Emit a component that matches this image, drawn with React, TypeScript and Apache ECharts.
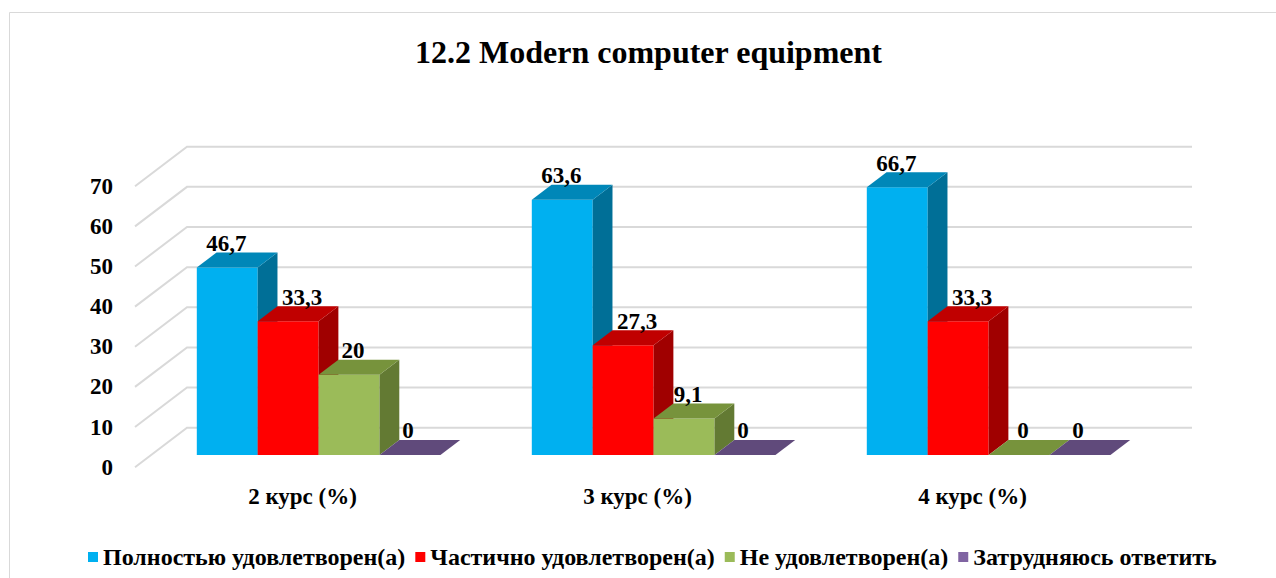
import React, { useEffect, useRef } from "react";
import * as echarts from "echarts";

// ---- data ----
const categories = ["2 курс (%)", "3 курс (%)", "4 курс (%)"];
const seriesNames = [
  "Полностью удовлетворен(а)",
  "Частично удовлетворен(а)",
  "Не удовлетворен(а)",
  "Затрудняюсь ответить",
];
const fullySatisfied = [46.7, 63.6, 66.7];
const partiallySatisfied = [33.3, 27.3, 33.3];
const notSatisfied = [20, 9.1, 0];
const hardToSay = [0, 0, 0];
const yTicks = [0, 10, 20, 30, 40, 50, 60, 70];
const titleText = "12.2 Modern computer equipment";

// ---- style ----
const FONT = "Liberation Serif";
const frontColors = ["#00B0F0", "#FF0000", "#9BBB59", "#8064A2"];
const topColors = ["#0087B8", "#C00000", "#77933C", "#604A7B"];
const sideColors = ["#006F97", "#A00000", "#637A33", "#4F3D66"];
const labelDx = [-1, 14, 4, -2];
const DX = 52; // full wall depth, x
const DY = -39.5; // full wall depth, y
const D0 = 0.31; // bar front depth fraction
const D1 = 0.69; // bar back depth fraction

const fmt = (v: number) => String(v).replace(".", ",");

export default function App() {
  const ref = useRef<HTMLDivElement>(null);
  useEffect(() => {
    if (!ref.current) return;
    const chart = echarts.init(ref.current, undefined, { renderer: "svg" });
    const allValues = [fullySatisfied, partiallySatisfied, notSatisfied, hardToSay];

    const barSeries = allValues.map((vals, s) => ({
      type: "custom",
      name: seriesNames[s],
      itemStyle: { color: frontColors[s] },
      data: vals.map((v, j) => [j, v]),
      encode: { x: 0, y: 1 },
      z: 3,
      renderItem: (params: any, api: any) => {
        const j = api.value(0);
        const v = api.value(1);
        const catW = api.size([1, 0])[0];
        const bw = catW / 5.5;
        const p0 = api.coord([j, 0]);
        const p1 = api.coord([j, v]);
        const catLeft = p0[0] - catW / 2;
        const fx = catLeft + 0.75 * bw + s * bw + DX * D0;
        const fyB = p0[1] + DY * D0;
        const fyT = p1[1] + DY * D0;
        const bdx = DX * (D1 - D0);
        const bdy = DY * (D1 - D0);
        const children: any[] = [];
        if (v > 0) {
          children.push({
            type: "polygon",
            shape: { points: [[fx, fyT], [fx + bw, fyT], [fx + bw, fyB], [fx, fyB]] },
            style: { fill: frontColors[s] },
          });
          children.push({
            type: "polygon",
            shape: {
              points: [[fx + bw, fyT], [fx + bw + bdx, fyT + bdy], [fx + bw + bdx, fyB + bdy], [fx + bw, fyB]],
            },
            style: { fill: sideColors[s] },
          });
        }
        children.push({
          type: "polygon",
          shape: {
            points: [[fx, fyT], [fx + bw, fyT], [fx + bw + bdx, fyT + bdy], [fx + bdx, fyT + bdy]],
          },
          style: { fill: topColors[s] },
        });
        children.push({
          type: "text",
          x: fx + bw / 2 + labelDx[s],
          y: fyT + bdy - 9,
          style: {
            text: fmt(v),
            fill: "#000",
            fontFamily: FONT,
            fontWeight: "bold",
            fontSize: 23,
            align: "center",
            verticalAlign: "middle",
          },
          z2: 10,
        });
        return { type: "group", children };
      },
    }));

    const wallSeries = {
      type: "custom",
      name: "walls",
      silent: true,
      z: 1,
      data: yTicks.map((t) => [0, t]),
      encode: { x: 0, y: 1 },
      renderItem: (params: any, api: any) => {
        const cs = params.coordSys;
        const y = api.coord([0, api.value(1)])[1];
        const x0 = cs.x;
        const x1 = cs.x + cs.width;
        return {
          type: "polyline",
          shape: { points: [[x0, y], [x0 + DX, y + DY], [x1 + DX, y + DY]] },
          style: { stroke: "#D9D9D9", lineWidth: 2, fill: "none" },
        };
      },
    };

    chart.setOption({
      animation: false,
      backgroundColor: "#fff",
      graphic: [
        {
          type: "rect",
          shape: { x: 9.5, y: 12.5, width: 1400, height: 700 },
          style: { fill: "none", stroke: "#D9D9D9", lineWidth: 1 },
          silent: true,
          z: -10,
        },
        {
          type: "text",
          x: 648.5,
          y: 52,
          style: {
            text: titleText,
            fontFamily: FONT,
            fontWeight: "bold",
            fontSize: 32,
            fill: "#000",
            align: "center",
            verticalAlign: "middle",
          },
        },
      ],
      legend: {
        data: seriesNames,
        top: 540,
        left: 83,
        icon: "rect",
        itemWidth: 10,
        itemHeight: 10,
        itemGap: 10,
        textStyle: { fontFamily: FONT, fontWeight: "bold", fontSize: 24, color: "#000" },
      },
      grid: { left: 135, right: 136, top: 186.2, bottom: 110.8, containLabel: false },
      xAxis: {
        type: "category",
        data: categories,
        axisLine: { show: false },
        axisTick: { show: false },
        splitLine: { show: false },
        axisLabel: {
          margin: 18,
          fontFamily: FONT,
          fontWeight: "bold",
          fontSize: 23,
          color: "#000",
        },
      },
      yAxis: {
        type: "value",
        min: 0,
        max: 70,
        interval: 10,
        axisLine: { show: false },
        axisTick: { show: false },
        splitLine: { show: false },
        axisLabel: {
          margin: 22,
          fontFamily: FONT,
          fontWeight: "bold",
          fontSize: 23,
          color: "#000",
        },
      },
      series: [wallSeries, ...barSeries],
    });
    return () => chart.dispose();
  }, []);
  return (
    <div
      ref={ref}
      style={{ position: "fixed", left: 0, top: 0, width: 1276, height: 578 }}
    />
  );
}
